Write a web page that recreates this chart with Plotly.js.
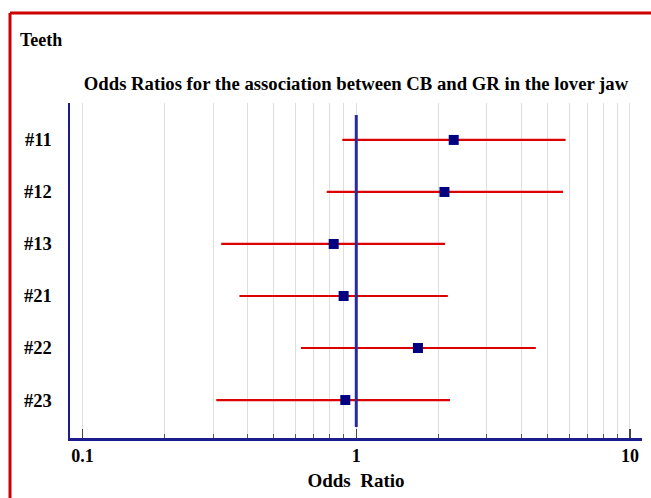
<!DOCTYPE html>
<html><head><meta charset="utf-8">
<script src="https://cdn.plot.ly/plotly-3.0.1.min.js"></script>
<style>html,body{margin:0;padding:0;background:#fff;}#chart{width:651px;height:498px;}</style>
</head><body><div id="chart"></div>
<script>
const teeth = ["#11", "#12", "#13", "#21", "#22", "#23"];
const oddsRatio = [2.27, 2.10, 0.827, 0.899, 1.68, 0.912];
const ciLower = [0.889, 0.78, 0.321, 0.374, 0.628, 0.308];
const ciUpper = [5.82, 5.69, 2.11, 2.16, 4.53, 2.20];
const xTickVals = [0.1, 1, 10];
const xTickText = ["0.1", "1", "10"];

const rowIdx = teeth.map((t, i) => i);
const serif = "Liberation Serif, Times New Roman, serif";

const trace = {
  type: "scatter", mode: "markers",
  x: oddsRatio, y: rowIdx,
  marker: {symbol: "square", size: 10, color: "#000080"},
  error_x: {
    type: "data", symmetric: false,
    array: oddsRatio.map((v, i) => ciUpper[i] - v),
    arrayminus: oddsRatio.map((v, i) => v - ciLower[i]),
    color: "#dd0000", thickness: 2.2, width: 0
  },
  hoverinfo: "x+y"
};

const layout = {
  width: 651, height: 498,
  margin: {l: 70, r: 9, t: 103, b: 60},
  paper_bgcolor: "#fff", plot_bgcolor: "#fff",
  showlegend: false,
  font: {family: serif, color: "#000", weight: 700},
  title: {text: "Odds Ratios for the association between CB and GR in the lover jaw",
    font: {family: serif, size: 18.7, weight: 700, color: "#000"},
    x: 0.5, xref: "paper", xanchor: "center", y: 1 - 83 / 498, yref: "container", yanchor: "middle"},
  xaxis: {
    type: "log", range: [-1.046, 1.044],
    tickvals: xTickVals, ticktext: xTickText,
    ticks: "inside", ticklen: 9, tickwidth: 1.5, tickcolor: "#444",
    tickfont: {family: serif, size: 18, weight: 700, color: "#000"},
    showgrid: true, gridcolor: "#dedede", gridwidth: 1,
    minor: {dtick: "D1", ticks: "inside", ticklen: 4, tickcolor: "#555", tickwidth: 1,
      showgrid: true, gridcolor: "#dedede", gridwidth: 1},
    showline: true, linecolor: "#1c1c8c", linewidth: 2.5,
    zeroline: false, mirror: false,
    title: {text: "Odds\u00A0 Ratio", font: {family: serif, size: 19, weight: 700, color: "#000"}, standoff: 9}
  },
  yaxis: {
    range: [5.73, -0.71], tickvals: rowIdx, ticktext: teeth,
    tickfont: {family: serif, size: 18.5, weight: 700, color: "#000"},
    ticks: "", ticklabelstandoff: 12,
    showgrid: false, zeroline: false,
    showline: true, linecolor: "#1c1c8c", linewidth: 2.5
  },
  shapes: [
    {type: "line", xref: "x", yref: "y", x0: 1, x1: 1, y0: -0.48, y1: 5.52,
      line: {color: "#2a2aa0", width: 3}},
    {type: "line", xref: "paper", yref: "paper", x0: -0.1049, x1: 1.05, y0: 1.2687, y1: 1.2687,
      line: {color: "#cc0000", width: 3}},
    {type: "line", xref: "paper", yref: "paper", x0: -0.1049, x1: -0.1049, y0: 1.2687, y1: -0.2,
      line: {color: "#cc0000", width: 3}}
  ],
  annotations: [
    {text: "Teeth", xref: "paper", yref: "paper", x: (18 - 70) / 572, y: (438 - 40) / 335, xanchor: "left", yanchor: "middle",
      showarrow: false, font: {family: serif, size: 18, weight: 700, color: "#000"}}
  ]
};

Plotly.newPlot("chart", [trace], layout, {displayModeBar: false, staticPlot: true});
</script></body></html>
